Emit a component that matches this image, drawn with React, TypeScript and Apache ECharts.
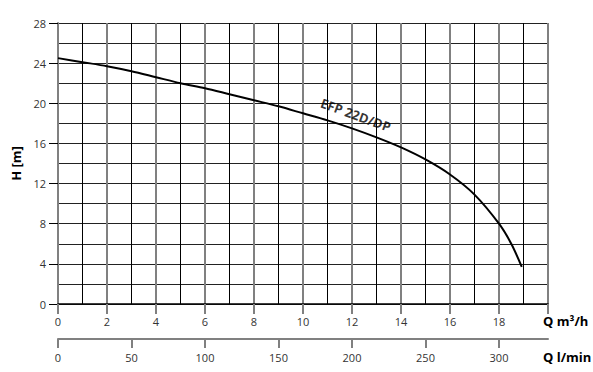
import React, { useEffect, useRef } from "react";
import * as echarts from "echarts";

// Flow in m³/h and head in m
const Q_M3H = [0, 1, 2, 3, 4, 5, 6, 7, 8, 9, 10, 11, 12, 13, 14, 15, 16, 17, 18, 18.5, 18.93];
const H_M = [24.5, 24.1, 23.7, 23.2, 22.6, 22.0, 21.5, 20.9, 20.3, 19.7, 19.0, 18.3, 17.5, 16.6, 15.6, 14.4, 12.9, 10.9, 8.0, 6.0, 3.7];

const CURVE_NAME = "EFP 22D/DP";
const LABEL_AT = [12.15, 18.85];

const Q_MAX = 20; // m³/h
const H_MAX = 28; // m
const LMIN_PER_M3H = 1000 / 60;

const FONT = "'Open Sans', 'Noto Sans', sans-serif";

export default function App() {
  const ref = useRef<HTMLDivElement>(null);

  useEffect(() => {
    document.body.style.margin = "0";
    if (!ref.current) return;
    const chart = echarts.init(ref.current, null, { renderer: "svg" });
    const curve = Q_M3H.map((q, i) => [q, H_M[i]]);
    const labelStyle = { color: "#333", fontSize: 11, fontFamily: FONT };

    chart.setOption({
      animation: false,
      grid: { left: 58, right: 45, top: 23, bottom: 68 },
      xAxis: [
        {
          type: "value",
          position: "bottom",
          min: 0,
          max: Q_MAX,
          interval: 2,
          axisLine: { onZero: false, lineStyle: { color: "#000", width: 1.5 } },
          axisTick: { show: true, length: 10, lineStyle: { color: "#808080", width: 2 } },
          axisLabel: {
            ...labelStyle,
            margin: 12,
            formatter: (v: number) => (v >= Q_MAX ? "" : String(v)),
          },
          splitLine: { show: true, lineStyle: { color: "#808080", width: 2 } },
        },
        {
          type: "value",
          position: "bottom",
          min: 0,
          max: Q_MAX,
          interval: 1,
          axisLine: { show: false, onZero: false },
          axisTick: { show: false },
          axisLabel: { show: false },
          splitLine: { show: true, lineStyle: { color: ["rgba(0,0,0,0)", "#000"], width: 1 } },
        },
        {
          type: "value",
          position: "bottom",
          offset: 35,
          min: 0,
          max: Q_MAX * LMIN_PER_M3H,
          interval: 50,
          axisLine: { show: true, onZero: false, lineStyle: { color: "#808080", width: 2 } },
          axisTick: { show: true, length: 9, lineStyle: { color: "#808080", width: 2 } },
          axisLabel: { ...labelStyle, margin: 13 },
          splitLine: { show: false },
        },
      ],
      yAxis: [
        {
          type: "value",
          position: "left",
          min: 0,
          max: H_MAX,
          interval: 4,
          name: "H [m]",
          nameLocation: "middle",
          nameGap: 30,
          nameTextStyle: { color: "#000", fontWeight: "bold", fontSize: 13, fontFamily: FONT },
          axisLine: { show: true, onZero: false, lineStyle: { color: "#808080", width: 2 } },
          axisTick: { show: true, length: 9, lineStyle: { color: "#000", width: 1 } },
          axisLabel: { ...labelStyle, margin: 12 },
          splitLine: { show: false },
        },
        {
          type: "value",
          position: "left",
          min: 0,
          max: H_MAX,
          interval: 2,
          axisLine: { show: false, onZero: false },
          axisTick: { show: false },
          axisLabel: { show: false },
          splitLine: { show: true, lineStyle: { color: "#222", width: 1 } },
        },
      ],
      graphic: [
        {
          type: "text",
          left: 543,
          top: 314,
          style: { text: "Q m³/h", font: `bold 13px ${FONT}`, fill: "#000" },
        },
        {
          type: "text",
          left: 543,
          top: 350,
          style: { text: "Q l/min", font: `bold 13px ${FONT}`, fill: "#000" },
        },
      ],
      series: [
        {
          type: "line",
          xAxisIndex: 0,
          yAxisIndex: 0,
          data: curve,
          smooth: 0.3,
          symbol: "none",
          lineStyle: { color: "#000", width: 2 },
          z: 5,
        },
        {
          type: "scatter",
          xAxisIndex: 0,
          yAxisIndex: 0,
          data: [LABEL_AT],
          symbolSize: 0,
          z: 6,
          label: {
            show: true,
            position: "inside",
            rotate: -20,
            formatter: CURVE_NAME,
            color: "#000",
            fontWeight: "bold",
            fontSize: 13,
            fontFamily: FONT,
          },
        },
      ],
    });
    return () => chart.dispose();
  }, []);

  return <div ref={ref} style={{ width: 593, height: 372 }} />;
}
